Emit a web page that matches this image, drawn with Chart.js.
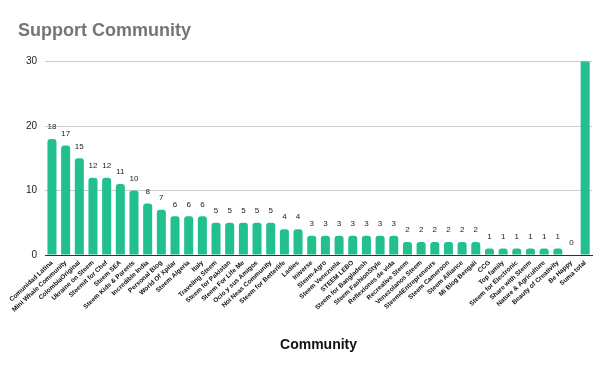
<!DOCTYPE html>
<html>
<head>
<meta charset="utf-8">
<script src="https://cdn.jsdelivr.net/npm/chart.js@4/dist/chart.umd.min.js"></script>
<style>
html,body{margin:0;padding:0;background:#fff;}
#wrap{width:613px;height:370px;position:relative;}
</style>
</head>
<body>
<div id="wrap"><canvas id="c" width="613" height="370"></canvas></div>
<script>
const categories = [
  "Comunidad Latina","Mini Whale Community","ColombiaOriginal","Ukraine on Steem","Steemit for Chef",
  "Steem SEA","Steem Kids & Parents","Incredible India","Personal Blog","World Of Xpilar",
  "Steem Algeria","Italy","Traveling Steem","Steem for Pakistan","Steem For Life Me",
  "Ocio y sus Amigos","Noi Neas Community","Steem for Betterlife","Ladies","Iniverse",
  "Steem-Agro","Steem Venezuela","STEEM LEBO","Steem for Bangladesh","Steem FashionStyle",
  "Reflexiones de vida","Recreative Steem","Venezolanos Steem","Steem4Entrepreneurs","Steem Cameroon",
  "Steem Alliance","Mi Blog Bengali","CCG","Top family","Steem for Electronic",
  "Share with Steem","Nature & Agriculture","Beauty of Creativity","Be Happy","Suma total"
];
const values = [
  18,17,15,12,12,11,10,8,7,6,
  6,6,5,5,5,5,5,4,4,3,
  3,3,3,3,3,3,2,2,2,2,
  2,2,1,1,1,1,1,1,0,200
];
const yTicks = [0,10,20,30];

const FONT = "'Liberation Sans', Arial, sans-serif";

const valueLabels = {
  id: 'valueLabels',
  afterDatasetsDraw(chart) {
    const ctx = chart.ctx;
    const meta = chart.getDatasetMeta(0);
    const yMax = chart.scales.y.max;
    ctx.save();
    ctx.font = "8px " + FONT;
    ctx.fillStyle = '#222';
    ctx.textAlign = 'center';
    ctx.textBaseline = 'bottom';
    meta.data.forEach((bar, i) => {
      const v = values[i];
      if (v > yMax) return;
      ctx.fillText(String(v), bar.x, bar.y - 8);
    });
    ctx.restore();
  }
};

new Chart(document.getElementById('c'), {
  type: 'bar',
  data: {
    labels: categories,
    datasets: [{
      data: values,
      backgroundColor: '#21c08e',
      borderRadius: {topLeft: 3, topRight: 3, bottomLeft: 0, bottomRight: 0},
      borderSkipped: 'bottom',
      barPercentage: 0.66,
      categoryPercentage: 1.0
    }]
  },
  plugins: [valueLabels],
  options: {
    responsive: false,
    animation: false,
    devicePixelRatio: 1,
    layout: { padding: { left: 18, right: 21, top: 10, bottom: 16 } },
    plugins: {
      legend: { display: false },
      tooltip: { enabled: false },
      title: {
        display: true,
        text: 'Support Community',
        align: 'start',
        color: '#757575',
        font: { family: FONT, size: 18, weight: 'bold' },
        padding: { top: 10, bottom: 20 }
      }
    },
    scales: {
      x: {
        afterFit(axis) { axis.height = 99; },
        grid: { display: false, drawTicks: false },
        border: { display: true, color: '#333', width: 1 },
        ticks: {
          autoSkip: false,
          minRotation: 43,
          maxRotation: 43,
          color: '#111',
          padding: 4,
          font: { family: FONT, size: 6.5, weight: 'bold' }
        },
        title: {
          display: true,
          text: 'Community',
          color: '#111',
          font: { family: FONT, size: 14, weight: 'bold' },
          padding: { top: 4, bottom: 0 }
        }
      },
      y: {
        min: 0,
        max: 30,
        afterBuildTicks(axis) { axis.ticks = yTicks.map(v => ({ value: v })); },
        grid: { color: '#cccccc', drawTicks: false },
        border: { display: false },
        ticks: {
          color: '#222',
          padding: 8,
          font: { family: FONT, size: 10 }
        }
      }
    }
  }
});
</script>
</body>
</html>
